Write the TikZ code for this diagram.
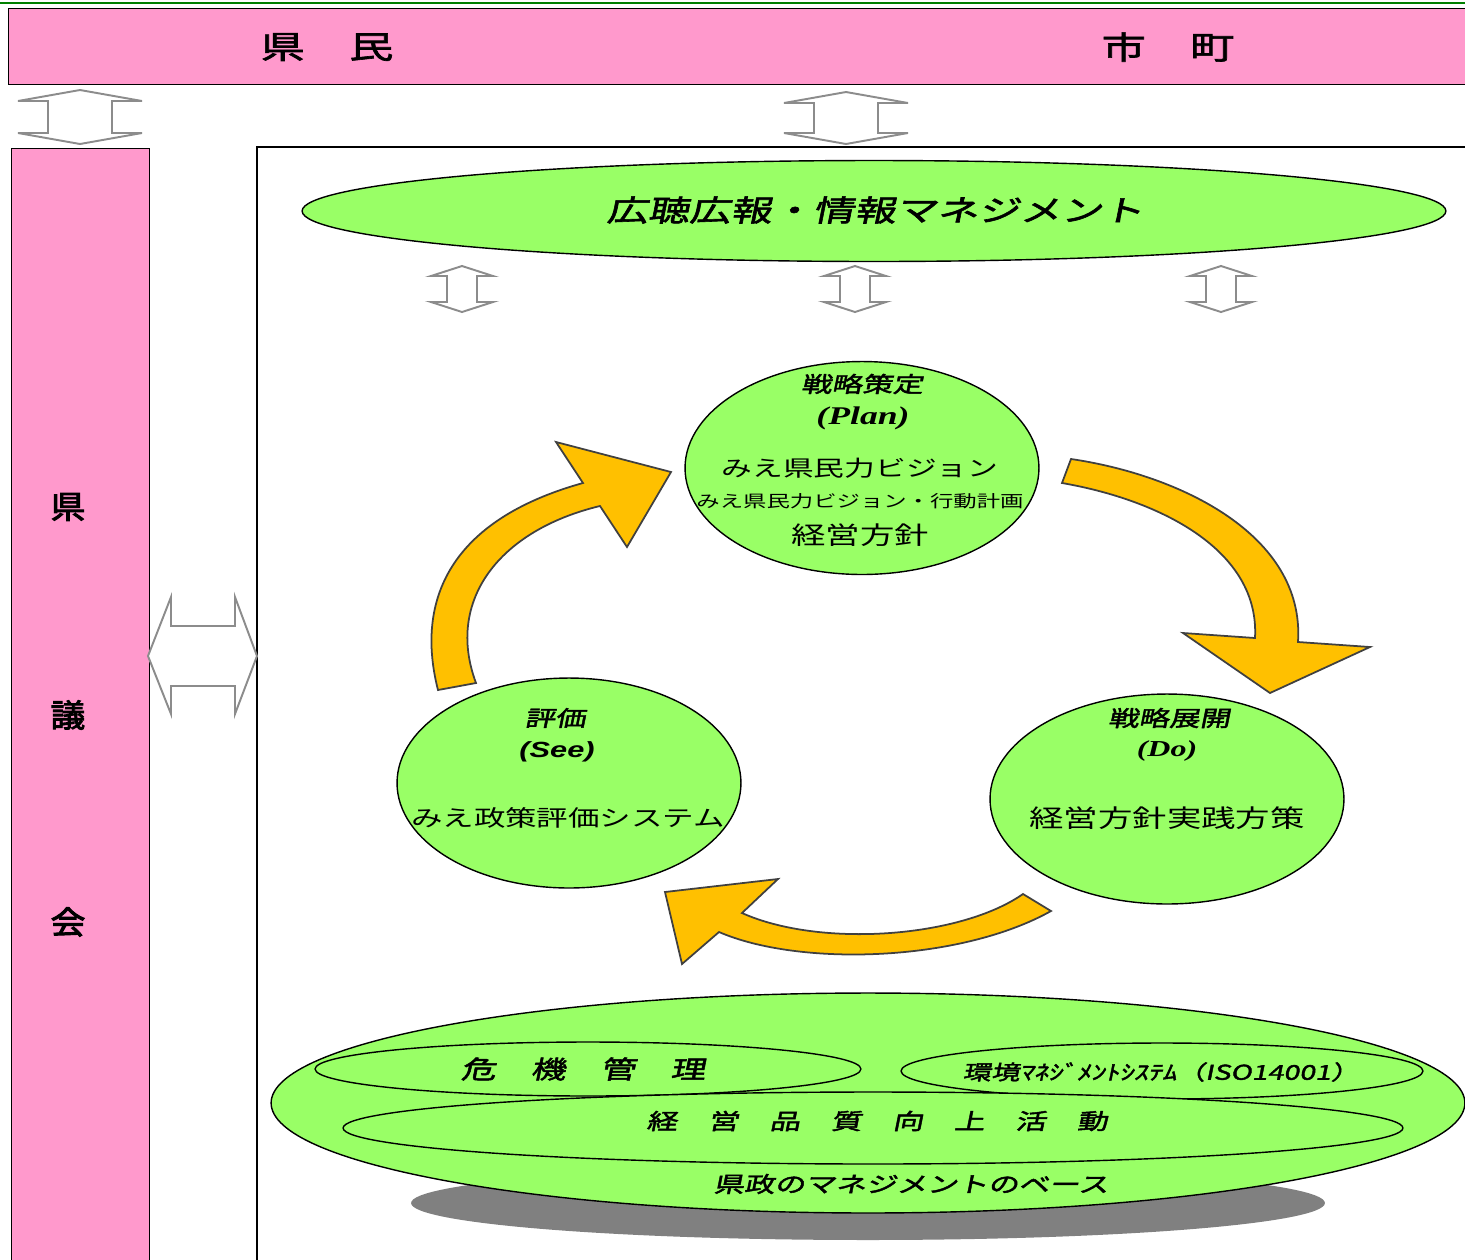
\documentclass[tikz,border=0pt]{standalone}
\usepackage{fontspec}
\usepackage{xcolor}
\usepackage{tikz}
\usetikzlibrary{shapes.geometric}
\setmainfont{Liberation Serif}
\newfontfamily\jp[FakeStretch=1.4]{Noto Sans CJK JP}
\newfontfamily\jpb[FakeStretch=1.4,FakeBold=2]{Noto Sans CJK JP}
\newfontfamily\jpcol[FakeStretch=1.1,FakeBold=3]{Noto Sans CJK JP}
\newfontfamily\jpbi[FakeStretch=1.4,FakeBold=2,FakeSlant=0.2]{Noto Sans CJK JP}
\newfontfamily\serifbi[FakeStretch=1.4]{Liberation Serif}
\newfontfamily\sansbi[FakeStretch=1.4]{Liberation Sans}
\definecolor{pinkfill}{HTML}{FF99CC}
\definecolor{ovalgreen}{HTML}{99FF66}
\definecolor{turnorange}{HTML}{FFC000}
\definecolor{turnedge}{HTML}{404040}
\definecolor{twingray}{HTML}{8C8C8C}
\definecolor{shadowgray}{HTML}{808080}

\begin{document}
\begin{tikzpicture}[
    x=0.02cm, y=-0.02cm,
    band/.style={rectangle, draw, line width=0.8pt, fill=pinkfill, anchor=north west},
    oval/.style={ellipse, draw, line width=0.8pt, fill=ovalgreen, inner sep=0pt},
    twin/.style={draw=twingray, line width=1.1pt, fill=white},
    turn/.style={draw=turnedge, line width=1pt, fill=turnorange},
    head/.style={font=\jpb\fontsize{18}{20}\selectfont},
    column/.style={font=\jpcol\fontsize{18}{20}\selectfont},
    phase/.style={font=\jpbi\fontsize{12.4}{14}\selectfont},
    item/.style={font=\jp\fontsize{12.5}{14}\selectfont},
    base/.style={font=\jpbi\fontsize{12.4}{14}\selectfont}
]
\clip (0,0) rectangle (1465,1259);

% top line
\draw[green!50!black, line width=1pt] (0,3) -- (1465,3);

% citizens and municipalities
\node[band, minimum width=29.6cm, minimum height=1.52cm] (people) at (8,8) {};
\node[head] (kenmin) at (327,47) {県　民};
\node[head] (shicho) at (1168,47) {市　町};

% prefectural assembly
\node[band, minimum width=2.76cm, minimum height=23cm] (assembly) at (11,148) {};
\node[column] (ken) at (68,507) {県};
\node[column] (gi) at (68,715) {議};
\node[column] (kai) at (68,922) {会};

% frame of the prefectural administration
\node[draw, line width=1pt, anchor=north west, minimum width=25cm, minimum height=23cm] (frame) at (256,146) {};

% hollow double arrows
\draw[twin] (80,90) -- ++(62,11) -- ++(-30,0) -- ++(0,32) -- ++(30,0) -- (80,144)
    -- ++(-62,-11) -- ++(30,0) -- ++(0,-32) -- ++(-30,0) -- cycle;
\draw[twin] (846,92) -- ++(62,11) -- ++(-30,0) -- ++(0,30) -- ++(30,0) -- (846,144)
    -- ++(-62,-11) -- ++(30,0) -- ++(0,-30) -- ++(-30,0) -- cycle;
\foreach \cx in {462,855,1221}
  \draw[twin] (\cx,266) -- ++(31,10) -- ++(-16,0) -- ++(0,26) -- ++(16,0) -- (\cx,312)
      -- ++(-31,-10) -- ++(16,0) -- ++(0,-26) -- ++(-16,0) -- cycle;
\draw[twin] (148,656) -- (171,597) -- (171,626) -- (235,626) -- (235,597) -- (257,656)
    -- (235,714) -- (235,686) -- (171,686) -- (171,714) -- cycle;

% public hearing and information
\node[oval, minimum width=22.88cm, minimum height=2.02cm] (info) at (874,211) {};
\node[font=\jpbi\fontsize{16.8}{18}\selectfont] (infotext) at (875,210) {広聴広報・情報マネジメント};

% cycle arrows
\draw[turn] (438,690) .. controls (415,600) and (450,520) .. (583,483) -- (556,442) -- (671,472)
    -- (627,547) -- (600,506) .. controls (500,530) and (445,600) .. (476,683) -- cycle;
\draw[turn] (1071,459) .. controls (1180,475) and (1305,535) .. (1298,642) -- (1370,647) -- (1270,693)
    -- (1183,633) -- (1255,638) .. controls (1260,550) and (1160,500) .. (1062,483) -- cycle;
\draw[turn] (1051,911) .. controls (960,962) and (800,967) .. (719,932) -- (682,964) -- (665,892)
    -- (778,879) -- (742,913) .. controls (820,948) and (960,938) .. (1023,894) -- cycle;

% Plan
\node[oval, minimum width=7.08cm, minimum height=4.26cm] (plan) at (862,468) {};
\node[phase] (plantitle) at (862,384) {戦略策定};
\node[font=\serifbi\bfseries\itshape\fontsize{14.5}{16}\selectfont] (planword) at (863,418) {(Plan)};
\node[item] (vision) at (860,468) {みえ県民力ビジョン};
\node[font=\jp\fontsize{9.5}{11}\selectfont] (action) at (860,501) {みえ県民力ビジョン・行動計画};
\node[font=\jp\fontsize{14}{16}\selectfont] (policy) at (860,535) {経営方針};

% See
\node[oval, minimum width=6.88cm, minimum height=4.2cm] (see) at (569,783) {};
\node[phase] (seetitle) at (555,718) {評価};
\node[font=\sansbi\bfseries\itshape\fontsize{12.5}{14}\selectfont] (seeword) at (557,752) {(See)};
\node[font=\jp\fontsize{12.8}{14}\selectfont] (evaluation) at (568,818) {みえ政策評価システム};

% Do
\node[oval, minimum width=7.08cm, minimum height=4.2cm] (do) at (1167,799) {};
\node[phase] (dotitle) at (1169,718) {戦略展開};
\node[font=\serifbi\bfseries\itshape\fontsize{13}{15}\selectfont] (doword) at (1167,751) {(Do)};
\node[font=\jp\fontsize{14}{16}\selectfont] (practice) at (1167,818) {経営方針実践方策};

% management base
\node[ellipse, fill=shadowgray, minimum width=18.28cm, minimum height=1.48cm] (shadow) at (868,1203) {};
\node[oval, minimum width=23.88cm, minimum height=4.4cm] (basis) at (868,1103) {};
\node[oval, minimum width=10.92cm, minimum height=1.08cm] (crisis) at (588,1069) {};
\node[oval, minimum width=10.44cm, minimum height=1.12cm] (ems) at (1162,1071) {};
\node[oval, minimum width=21.2cm, minimum height=1.44cm] (quality) at (873,1128) {};
\node[font=\jpbi\fontsize{14.2}{16}\selectfont] (crisistext) at (583,1069) {危　機　管　理};
\node[font=\jpbi\fontsize{11.6}{13}\selectfont] (emstext) at (1161,1072) {環境ﾏﾈｼﾞﾒﾝﾄｼｽﾃﾑ（ISO14001）};
\node[font=\jpbi\fontsize{12.5}{14}\selectfont] (qualitytext) at (877,1121) {経　営　品　質　向　上　活　動};
\node[base] (basetext) at (911,1184) {県政のマネジメントのベース};

\end{tikzpicture}
\end{document}
